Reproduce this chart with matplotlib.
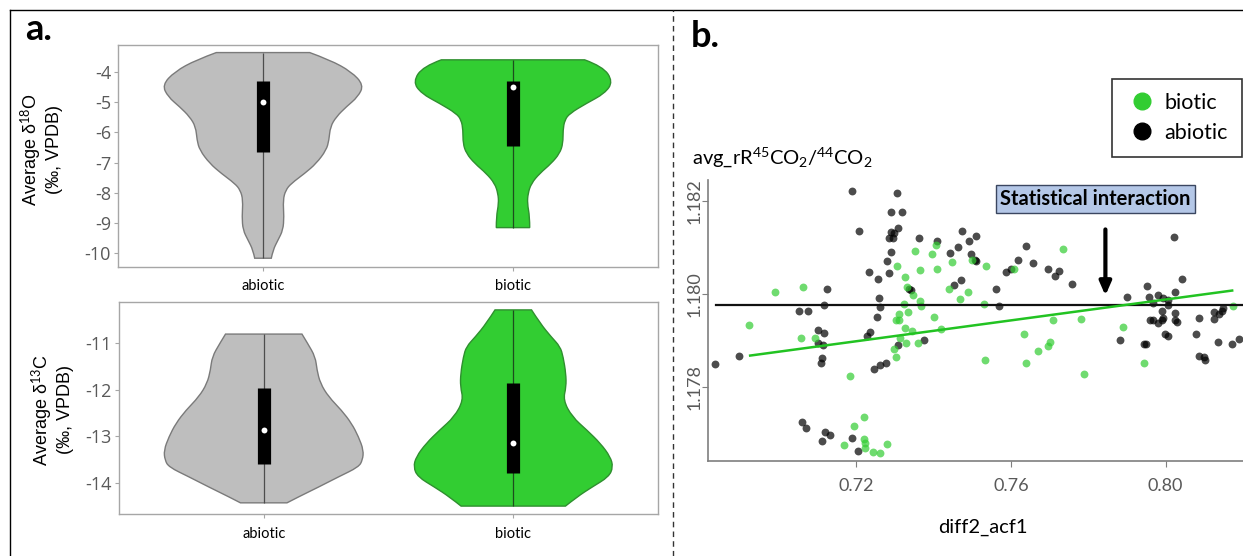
import matplotlib
matplotlib.use("Agg")
import matplotlib.pyplot as plt
from matplotlib.lines import Line2D
from matplotlib.path import Path
from matplotlib.patches import PathPatch
import numpy as np

plt.rcParams['mathtext.fontset'] = 'custom'
plt.rcParams['mathtext.rm'] = 'Lato'
plt.rcParams['mathtext.it'] = 'Lato:italic'
plt.rcParams['mathtext.bf'] = 'Lato:bold'

W, H = 1243, 556

# ---- panel a: violin profiles (level, relative density)
groups = ['abiotic', 'biotic']

o_abio_lev = [-3.37, -3.61, -4.00, -4.44, -4.83, -5.16, -5.49, -5.82, -6.26, -6.59,
              -7.03, -7.36, -7.69, -7.91, -8.24, -8.79, -9.23, -9.56, -9.89, -10.16]
o_abio_den = [46.7, 66.7, 88.3, 100.7, 95, 83.3, 73.3, 67.3, 66, 63.3,
              53.3, 41.7, 28.3, 22.7, 20, 21, 20, 15, 10, 8.3]
o_bio_lev = [-3.61, -3.83, -4.33, -4.72, -5.05, -5.38, -5.60, -5.93, -6.37, -6.70,
             -7.03, -7.36, -7.69, -8.02, -8.35, -8.79, -9.15]
o_bio_den = [71.7, 90, 100, 91.7, 73.3, 56.7, 51.7, 50, 50, 46.7,
             38.3, 26.7, 18.3, 15, 14.3, 16.7, 16.7]

c_abio_lev = [-10.80, -11.00, -11.29, -11.57, -11.86, -12.15, -12.44, -12.72, -13.01,
              -13.30, -13.51, -13.66, -13.87, -14.09, -14.30, -14.43]
c_abio_den = [38.3, 44, 51.7, 53.3, 56.7, 65, 78, 88, 95,
              100, 99, 95, 75, 55, 35, 23.3]
c_bio_lev = [-10.28, -10.57, -10.86, -11.07, -11.29, -11.65, -11.93, -12.22, -12.58,
             -12.87, -13.15, -13.44, -13.66, -13.87, -14.09, -14.30, -14.50]
c_bio_den = [18.3, 27, 38, 47, 50, 52.7, 53, 50, 59,
             74, 87.3, 97.3, 100, 95.7, 79, 64, 52.3]

# quartiles: q1, median, q3
o_quart = {'abiotic': (-6.64, -5.01, -4.31), 'biotic': (-6.45, -4.52, -4.30)}
c_quart = {'abiotic': (-13.60, -12.86, -11.95), 'biotic': (-13.79, -13.15, -11.86)}

o_ticks = [-4, -5, -6, -7, -8, -9, -10]
c_ticks = [-11, -12, -13, -14]

# ---- panel b: scatter points
bio_x = [0.6989, 0.7063, 0.6923, 0.7058, 0.7093, 0.7185, 0.7352, 0.7395, 0.7406, 0.7448,
         0.7305, 0.7366, 0.7410, 0.7327, 0.7500, 0.7535, 0.7735, 0.7608, 0.7441, 0.7490,
         0.7332, 0.7347, 0.7468, 0.7365, 0.7367, 0.7323, 0.7530, 0.7310, 0.7333, 0.7303,
         0.7312, 0.7401, 0.7327, 0.7344, 0.7419, 0.7313, 0.7330, 0.7361, 0.7299, 0.7304,
         0.7532, 0.7635, 0.7639, 0.7670, 0.7695, 0.7701, 0.7709, 0.7780, 0.7790, 0.7890,
         0.7944, 0.8173, 0.7219, 0.7195, 0.7220, 0.7222, 0.7169, 0.7224, 0.7244, 0.7261,
         0.7281]
bio_y = [1.18003, 1.18014, 1.17933, 1.17905, 1.17905, 1.17824, 1.18092, 1.18085, 1.18105, 1.18069,
         1.18059, 1.18051, 1.18054, 1.18037, 1.18073, 1.18060, 1.18096, 1.18053, 1.18011, 1.18004,
         1.18014, 1.17998, 1.17988, 1.17984, 1.17973, 1.17978, 1.17978, 1.17957, 1.17960, 1.17943,
         1.17943, 1.17951, 1.17927, 1.17920, 1.17924, 1.17905, 1.17894, 1.17894, 1.17882, 1.17864,
         1.17857, 1.17914, 1.17851, 1.17876, 1.17887, 1.17897, 1.17944, 1.17946, 1.17828, 1.17928,
         1.17851, 1.17974, 1.17734, 1.17715, 1.17687, 1.17679, 1.17674, 1.17668, 1.17659, 1.17657,
         1.17677]

abio_x = [0.7189, 0.7305, 0.7291, 0.7318, 0.7208, 0.7307, 0.7291, 0.7299, 0.7284, 0.7296,
          0.7363, 0.7408, 0.7474, 0.7509, 0.7493, 0.7462, 0.7443, 0.7291, 0.7279, 0.7498,
          0.7506, 0.7510, 0.7640, 0.7619, 0.7657, 0.7599, 0.7587, 0.7697, 0.7725, 0.7713,
          0.7758, 0.7233, 0.7257, 0.7286, 0.7471, 0.7452, 0.7336, 0.7341, 0.7562, 0.7125,
          0.7116, 0.7052, 0.7076, 0.7258, 0.7262, 0.7253, 0.7569, 0.7101, 0.7116, 0.7101,
          0.7115, 0.7111, 0.7108, 0.7237, 0.7227, 0.7376, 0.7308, 0.7246, 0.7261, 0.7276,
          0.6836, 0.6896, 0.7061, 0.7070, 0.7119, 0.7132, 0.7112, 0.7189, 0.7204, 0.8021,
          0.7901, 0.7953, 0.7956, 0.7981, 0.7994, 0.8007, 0.8025, 0.8042, 0.7968, 0.7960,
          0.7968, 0.7990, 0.7994, 0.8025, 0.8029, 0.7979, 0.7990, 0.8025, 0.8007, 0.8087,
          0.8125, 0.8125, 0.8137, 0.8145, 0.8149, 0.7882, 0.7943, 0.7950, 0.7999, 0.8005,
          0.8078, 0.8136, 0.8172, 0.8189, 0.8085, 0.8098, 0.8102]
abio_y = [1.18222, 1.18218, 1.18176, 1.18176, 1.18136, 1.18142, 1.18133, 1.18130, 1.18120, 1.18120,
          1.18120, 1.18113, 1.18136, 1.18125, 1.18113, 1.18100, 1.18087, 1.18090, 1.18070, 1.18085,
          1.18072, 1.18070, 1.18102, 1.18072, 1.18066, 1.18054, 1.18047, 1.18054, 1.18050, 1.18039,
          1.18022, 1.18047, 1.18032, 1.18044, 1.18030, 1.18019, 1.18010, 1.18009, 1.18011, 1.18010,
          1.17976, 1.17963, 1.17962, 1.17990, 1.17971, 1.17949, 1.17974, 1.17923, 1.17915, 1.17894,
          1.17890, 1.17862, 1.17852, 1.17918, 1.17909, 1.17901, 1.17889, 1.17838, 1.17847, 1.17851,
          1.17849, 1.17865, 1.17723, 1.17711, 1.17702, 1.17697, 1.17682, 1.17689, 1.17661, 1.18123,
          1.17994, 1.18017, 1.17994, 1.17997, 1.17991, 1.17987, 1.18004, 1.18032, 1.17980, 1.17944,
          1.17944, 1.17944, 1.17948, 1.17944, 1.17939, 1.17938, 1.17962, 1.17958, 1.17976, 1.17948,
          1.17946, 1.17960, 1.17957, 1.17962, 1.17969, 1.17900, 1.17892, 1.17892, 1.17913, 1.17910,
          1.17914, 1.17896, 1.17892, 1.17902, 1.17867, 1.17864, 1.17858]

# fitted lines (x0, x1) -> (y0, y1)
abio_fit_x = [0.6838, 0.8200]
abio_fit_y = [1.17975, 1.17975]
bio_fit_x = [0.6926, 0.8172]
bio_fit_y = [1.17867, 1.18007]

x_ticks = [0.72, 0.76, 0.80]
y_ticks = [1.178, 1.180, 1.182]

GRAY_FILL, GRAY_EDGE = '#bebebe', '#7a7a7a'
GREEN_FILL, GREEN_EDGE = '#32cd32', '#2f8f2f'
TICK_GRAY = '#595959'


def px_rect(left, top, right, bottom):
    return [left / W, 1 - bottom / H, (right - left) / W, (bottom - top) / H]


def smooth_side(xs, ys):
    # quadratic curve through the midpoints of the outline, ends kept fixed
    verts = [(xs[0], ys[0])]
    codes = [Path.LINETO]
    n = len(xs)
    for k in range(1, n - 1):
        mx, my = (xs[k] + xs[k + 1]) / 2, (ys[k] + ys[k + 1]) / 2
        if k == n - 2:
            mx, my = xs[k + 1], ys[k + 1]
        verts += [(xs[k], ys[k]), (mx, my)]
        codes += [Path.CURVE3, Path.CURVE3]
    return verts, codes


fig = plt.figure(figsize=(W / 100, H / 100), dpi=100)


def draw_violins(ax, profiles, quarts, ticks, ylim):
    colors = {'abiotic': (GRAY_FILL, GRAY_EDGE, '#4d4d4d'),
              'biotic': (GREEN_FILL, GREEN_EDGE, '#1d4d1d')}
    for i, g in enumerate(groups):
        lev, den = profiles[g]
        lev = np.array(lev)
        half = np.array(den) / 100.0 * 0.40
        fc, ec, lc = colors[g]
        rv, rc = smooth_side(i + half, lev)
        lv, lcodes = smooth_side((i - half)[::-1], lev[::-1])
        verts = rv + lv + [rv[0]]
        codes = [Path.MOVETO] + rc[1:] + lcodes + [Path.CLOSEPOLY]
        ax.add_patch(PathPatch(Path(verts, codes), facecolor=fc, edgecolor=ec,
                               linewidth=1.0, zorder=2))
        ax.vlines(i, lev.min(), lev.max(), color=lc, lw=0.9, zorder=3)
        q1, med, q3 = quarts[g]
        ax.vlines(i, q1, q3, color='black', lw=9.5, zorder=4)
        ax.scatter([i], [med], s=18, color='white', zorder=5, linewidths=0)
    ax.set_xlim(-0.58, 1.58)
    ax.set_ylim(*ylim)
    ax.set_xticks(range(len(groups)))
    ax.set_xticklabels(groups, fontsize=10.5, family='Lato', color='black')
    ax.set_yticks(ticks)
    ax.set_yticklabels([str(t) for t in ticks], fontsize=13, family='Open Sans',
                       color=TICK_GRAY)
    ax.tick_params(axis='both', length=3, color='#a6a6a6', width=0.8)
    ax.tick_params(axis='x', pad=6)
    ax.tick_params(axis='y', pad=2)
    for s in ax.spines.values():
        s.set_color('#a6a6a6')
        s.set_linewidth(1.0)


ax1 = fig.add_axes(px_rect(118, 45, 658, 267))
draw_violins(ax1, {'abiotic': (o_abio_lev, o_abio_den), 'biotic': (o_bio_lev, o_bio_den)},
             o_quart, o_ticks, (-10.45, -3.12))

ax2 = fig.add_axes(px_rect(119, 302, 658, 514))
draw_violins(ax2, {'abiotic': (c_abio_lev, c_abio_den), 'biotic': (c_bio_lev, c_bio_den)},
             c_quart, c_ticks, (-14.67, -10.11))

fig.text(41 / W, 1 - 150 / H, 'Average δ$^{18}$O\n(‰, VPDB)', rotation=90,
         ha='center', va='center', fontsize=13, family='Liberation Sans',
         multialignment='center', linespacing=1.1)
fig.text(52 / W, 1 - 410 / H, 'Average δ$^{13}$C\n(‰, VPDB)', rotation=90,
         ha='center', va='center', fontsize=13, family='Liberation Sans',
         multialignment='center', linespacing=1.1)

# ---- panel b
ax3 = fig.add_axes(px_rect(707.6, 180, 1243, 461))
ax3.scatter(abio_x, abio_y, s=32, color='black', alpha=0.7, linewidths=0, zorder=3)
ax3.scatter(bio_x, bio_y, s=32, color='#32cd32', alpha=0.7, linewidths=0, zorder=3)
ax3.plot(abio_fit_x, abio_fit_y, color='#111111', lw=1.6, zorder=4)
ax3.plot(bio_fit_x, bio_fit_y, color='#22c322', lw=1.8, zorder=4)
ax3.set_xlim(0.6816, 0.8200)
ax3.set_ylim(1.1764, 1.18245)
ax3.set_xticks(x_ticks)
ax3.set_xticklabels(['%.2f' % v for v in x_ticks], fontsize=13, family='Lato', color=TICK_GRAY)
ax3.set_yticks(y_ticks)
ax3.set_yticklabels(['%.3f' % v for v in y_ticks], fontsize=13, family='Lato',
                    color=TICK_GRAY, rotation=90, va='center')
ax3.tick_params(axis='both', length=4, color='#7f7f7f', width=0.8)
ax3.tick_params(axis='x', pad=8)
ax3.tick_params(axis='y', pad=0)
for side in ['top', 'right']:
    ax3.spines[side].set_visible(False)
for side in ['left', 'bottom']:
    ax3.spines[side].set_color('#7f7f7f')
    ax3.spines[side].set_linewidth(1.2)

ax3.text(0.7245, 0.931, 'Statistical interaction', transform=ax3.transAxes,
         ha='center', va='center', fontsize=14.5, family='Lato', fontweight='bold',
         bbox=dict(boxstyle='square,pad=0.2', facecolor='#b4c7e7',
                   edgecolor='#3a4660', linewidth=1.0), zorder=6)
ax3.annotate('', xy=(0.743, 0.579), xytext=(0.743, 0.834), xycoords='axes fraction',
             arrowprops=dict(arrowstyle='-|>,head_width=0.35,head_length=0.8',
                             color='black', lw=3), zorder=6)

fig.text(983 / W, 1 - 527 / H, 'diff2_acf1', ha='center', va='center',
         fontsize=14.5, family='Lato')
fig.text(692 / W, 1 - 157 / H, r'avg_rR$^{45}$CO$_{2}$/$^{44}$CO$_{2}$',
         ha='left', va='center', fontsize=14.5, family='Lato')

handles = [Line2D([], [], marker='o', ls='none', color='#32cd32', markersize=12),
           Line2D([], [], marker='o', ls='none', color='black', markersize=12)]
leg = fig.legend(handles, ['biotic', 'abiotic'], loc='upper left',
                 bbox_to_anchor=(1112 / W, 1 - 79 / H), borderaxespad=0,
                 fancybox=False, frameon=True, handletextpad=0.3, handlelength=1.5,
                 borderpad=0.65, labelspacing=0.45,
                 prop={'family': 'Lato', 'size': 15.5})
leg.get_frame().set_edgecolor('black')
leg.get_frame().set_linewidth(1.2)

# panel letters and frame
fig.text(25 / W, 1 - 40 / H, 'a.', fontsize=26, fontweight='bold', family='Lato',
         ha='left', va='baseline')
fig.text(691 / W, 1 - 47 / H, 'b.', fontsize=26, fontweight='bold', family='Lato',
         ha='left', va='baseline')

fig.add_artist(Line2D([10 / W, 1], [1 - 10 / H, 1 - 10 / H], color='black', lw=1.0))
fig.add_artist(Line2D([10 / W, 10 / W], [0, 1 - 10 / H], color='black', lw=1.0))
fig.add_artist(Line2D([673 / W, 673 / W], [0, 1 - 10 / H], color='#333333', lw=1.0,
                      ls=(0, (4, 3))))

fig.savefig('out.png', dpi=100)
